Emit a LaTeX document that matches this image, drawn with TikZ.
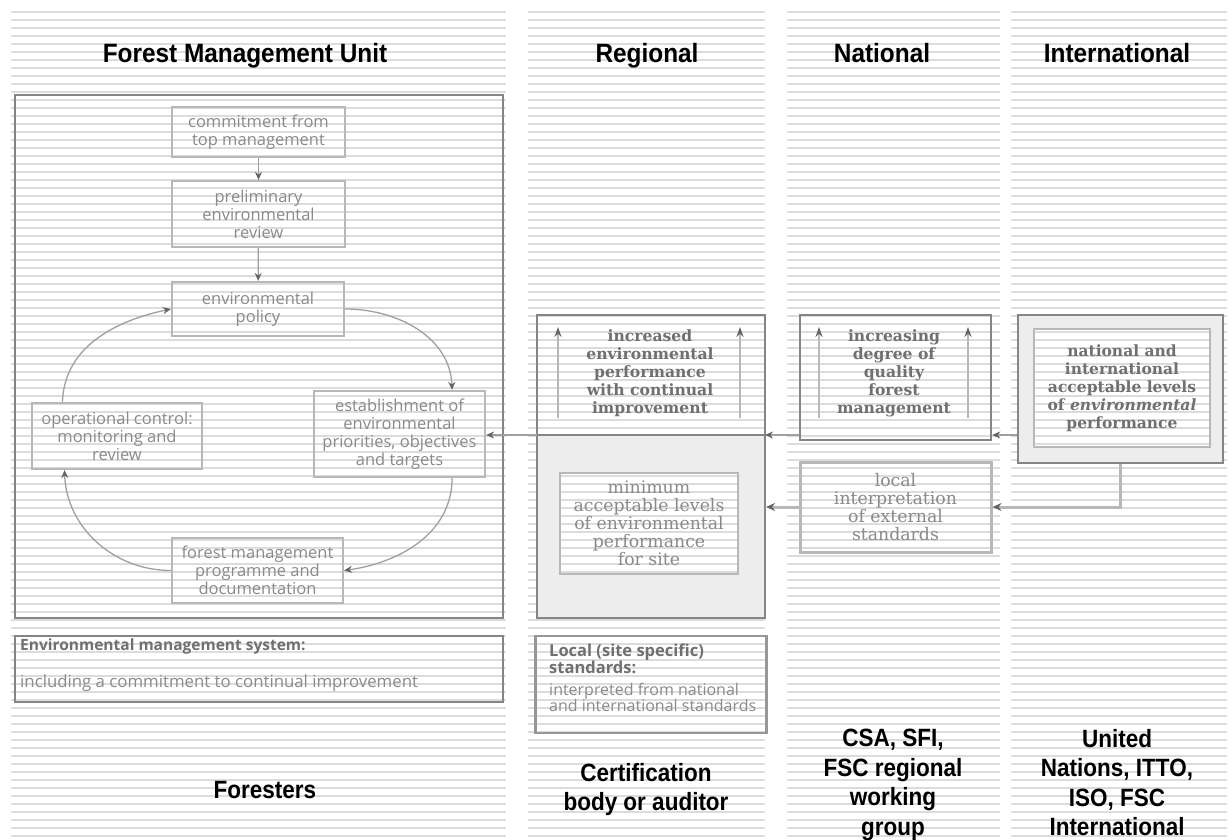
\documentclass[tikz,border=0pt]{standalone}
\usepackage{fontspec}
\setmainfont{Liberation Sans}
\newfontfamily\hdfont[FakeStretch=0.92]{Liberation Sans}
\newfontfamily\ftfont[FakeStretch=0.9]{Liberation Sans}
\newfontfamily\osans{Open Sans}
\newfontfamily\dser{DejaVu Serif}
\usetikzlibrary{arrows.meta,calc}
\definecolor{stripeC}{HTML}{DCDCDC}
\definecolor{bordD}{HTML}{858585}
\definecolor{bordL}{HTML}{B8B8B8}
\definecolor{txt}{HTML}{8A8A8A}
\definecolor{txtD}{HTML}{707070}
\definecolor{shadeC}{HTML}{EDEDED}
\definecolor{conn}{HTML}{A0A0A0}
\definecolor{tipc}{HTML}{646464}
\begin{document}
\begin{tikzpicture}[x=1pt,y=-1pt,
  stripe/.style={draw=stripeC,line width=1.7pt},
  hd/.style={font=\hdfont\bfseries\fontsize{26.5}{29.5}\selectfont,align=center,text=black,inner sep=0pt},
  ft/.style={font=\ftfont\bfseries\fontsize{25}{29.5}\selectfont,align=center,text=black,inner sep=0pt},
  fbox/.style={draw=bordL,line width=2.2pt,inner sep=1pt,align=center,text=txt,font=\osans\fontsize{16.5}{18}\selectfont},
  bigbox/.style={draw=bordD,line width=2pt,inner sep=0pt},
  rtext/.style={align=center,text=txtD,inner sep=0pt,font=\dser\bfseries\fontsize{15.6}{18}\selectfont},
  arr/.style={draw=conn,line width=1.3pt,-{Stealth[length=8pt,width=7pt,color=tipc]}},
  arrT/.style={draw=bordL,line width=3pt,-{Stealth[length=9pt,width=8pt,color=tipc]}},
  uparr/.style={draw=bordL,line width=1.8pt,-{Stealth[length=10pt,width=7pt,color=tipc]}}
]
\useasboundingbox (0,0) rectangle (1227,840);
\fill[white] (0,0) rectangle (1227,840);
% stripes
\foreach \xa/\xb in {11/506,528/765,787/1000,1011/1227}{
  \foreach \yy in {12,20,...,836}{\draw[stripe] (\xa,\yy) -- (\xb,\yy);}
}
% shaded areas
\fill[shadeC,even odd rule] (537,435) rectangle (765,618) (560,473) rectangle (738,574);
\fill[shadeC,even odd rule] (1018,315) rectangle (1223,463) (1034,329) rectangle (1210,447);

% headers
\node[hd,anchor=base] (hFMU) at (245,63) {Forest Management Unit};
\node[hd,anchor=base] (hReg) at (647,63) {Regional};
\node[hd,anchor=base] (hNat) at (882,63) {National};
\node[hd,anchor=base] (hInt) at (1117,63) {International};

% FMU big box
\node[bigbox,minimum width=488pt,minimum height=523pt] (fmu) at (259,356.5) {};
\node[fbox,minimum width=173pt,minimum height=50pt] (commit) at (258.5,132) {commitment from\\top management};
\node[fbox,minimum width=173pt,minimum height=66pt] (prelim) at (258.5,214) {preliminary\\environmental\\review};
\node[fbox,minimum width=172pt,minimum height=54pt] (policy) at (258,309) {environmental\\policy};
\node[fbox,minimum width=170pt,minimum height=66pt] (opctrl) at (117,436) {operational control:\\monitoring and\\review};
\node[fbox,minimum width=171pt,minimum height=86pt] (estab) at (399.5,434) {establishment of\\environmental\\priorities, objectives\\and targets};
\node[fbox,minimum width=171pt,minimum height=65pt] (fmprog) at (257.5,570.5) {forest management\\programme and\\documentation};

\draw[arr] (commit) -- (prelim);
\draw[arr] (prelim) -- (policy);
\draw[arr] (policy.east) to[out=0,in=92] (estab.40);
\draw[arr] (estab.-40) to[out=-90,in=8] (fmprog.east);
\draw[arr] (fmprog.west) to[out=180,in=-88] (opctrl.213);
\draw[arr] (opctrl.148) to[out=88,in=192] (policy.west);

% EMS box
\node[bigbox,minimum width=488pt,minimum height=66pt] (ems) at (259,669) {};
\node[anchor=west,text=txtD,inner sep=0pt,font=\osans\bfseries\fontsize{15.5}{18}\selectfont] (emsA) at (20,646) {Environmental management system:};
\node[anchor=west,text=txt,inner sep=0pt,font=\osans\fontsize{16.8}{18}\selectfont] (emsB) at (20,683) {including a commitment to continual improvement};

% Regional
\node[bigbox,minimum width=228pt,minimum height=303pt] (reg) at (651,466.5) {};
\coordinate (divL) at (537,435);
\coordinate (divR) at (765,435);
\draw[bordD,line width=1.8pt] (divL) -- (divR);
\node[rtext] (incr) at (650,373) {increased\\environmental\\performance\\with continual\\improvement};
\coordinate (ra1) at (558,418); \coordinate (ra1t) at (558,327);
\coordinate (ra2) at (740,418); \coordinate (ra2t) at (740,327);
\draw[uparr] (ra1) -- (ra1t);
\draw[uparr] (ra2) -- (ra2t);
\node[fbox,draw=bordL,line width=2.5pt,minimum width=178pt,minimum height=101pt,font=\dser\fontsize{17.3}{18}\selectfont,text=txt] (minb) at (649,523.5) {minimum\\acceptable levels\\of environmental\\performance\\for site};

\node[bigbox,draw=bordD!85,line width=2.4pt,minimum width=231pt,minimum height=97pt] (lss) at (651,684.5) {};
\node[anchor=north west,align=left,inner sep=0pt,text=txtD,font=\osans\bfseries\fontsize{16.5}{17}\selectfont] (lssA) at (549,644) {Local (site specific)\\standards:};
\node[anchor=north west,align=left,inner sep=0pt,text=txt,font=\osans\fontsize{16}{16.5}\selectfont] (lssB) at (549,683) {interpreted from national\\and international standards};

% National
\node[bigbox,line width=2.4pt,minimum width=191pt,minimum height=125pt] (nat) at (895.5,377.5) {};
\node[rtext] (natT) at (894,373) {increasing\\degree of\\quality\\forest\\management};
\coordinate (na1) at (819,418); \coordinate (na1t) at (819,327);
\coordinate (na2) at (968,418); \coordinate (na2t) at (968,327);
\draw[uparr] (na1) -- (na1t);
\draw[uparr] (na2) -- (na2t);
\node[fbox,line width=3pt,minimum width=191pt,minimum height=90pt,font=\dser\fontsize{17.3}{18}\selectfont] (locint) at (895.5,507) {local\\interpretation\\of external\\standards};

% International
\node[bigbox,line width=2.6pt,minimum width=205pt,minimum height=148pt] (intlO) at (1120.5,389) {};
\node[fbox,line width=2.2pt,minimum width=176pt,minimum height=118pt,text=txtD,font=\dser\bfseries\fontsize{15.5}{18}\selectfont] (intlI) at (1122,388) {national and\\international\\acceptable levels\\of \textit{environmental}\\performance};

% connectors between columns
\draw[arr] (divL) -- (estab.east |- divL);
\draw[arr] (nat.west |- divR) -- (divR);
\draw[arr] (intlO.west |- divR) -- (nat.east |- divR);
\draw[arrT] (locint.west) -- (reg.east |- locint.west);
\draw[arrT] (intlO.south) |- (locint.east);

% footers
\node[ft] (fForest) at (265,790) {Foresters};
\node[ft,anchor=north] (fCert) at (646,763) {Certification\\body or auditor};
\node[ft,anchor=north] (fCSA) at (893,729) {CSA, SFI,\\FSC regional\\working\\group};
\node[ft,anchor=north] (fUN) at (1117,729) {United\\Nations, ITTO,\\ISO, FSC\\International};
\end{tikzpicture}
\end{document}
